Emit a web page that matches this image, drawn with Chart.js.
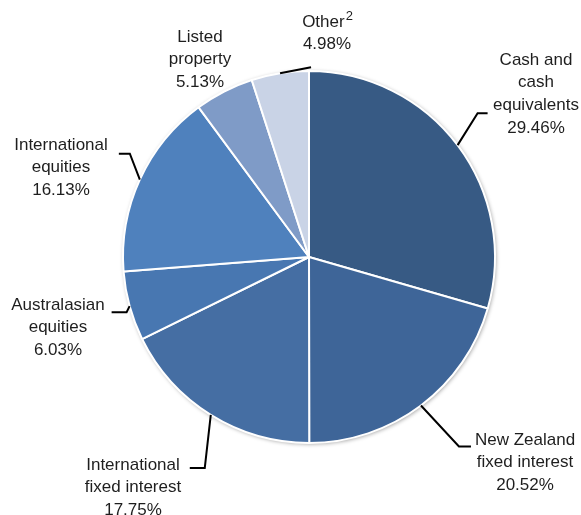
<!DOCTYPE html>
<html>
<head>
<meta charset="utf-8">
<script src="https://cdn.jsdelivr.net/npm/chart.js@4/dist/chart.umd.min.js"></script>
<style>
  html, body { margin: 0; padding: 0; background: #fff; }
  #wrap { width: 581px; height: 515px; position: relative; }
</style>
</head>
<body>
<div id="wrap"><canvas id="pie" width="581" height="515"></canvas></div>
<script>
// Asset allocation, clockwise from 12 o'clock
const categories = [
  'Cash and cash equivalents',
  'New Zealand fixed interest',
  'International fixed interest',
  'Australasian equities',
  'International equities',
  'Listed property',
  'Other'
]
const shares = [29.46, 20.52, 17.75, 6.03, 16.13, 5.13, 4.98]
const sliceColors = ['#375a84', '#3e6598', '#456ea3', '#4877b1', '#4f81bd', '#7f9bc7', '#c9d3e6']

// label text lines (the value line is added after them)
const labelLines = [
  ['Cash and', 'cash', 'equivalents'],
  ['New Zealand', 'fixed interest'],
  ['International', 'fixed interest'],
  ['Australasian', 'equities'],
  ['International', 'equities'],
  ['Listed', 'property'],
  ['Other']
]

// where each label sits, and how its leader bends (relative to the slice edge)
const labelLayout = [
  { x: 536, y: 60,  lead: [[20, -32], [10, 0]] },
  { x: 525, y: 440, lead: [[38, 41], [12, 0]] },
  { x: 133, y: 465, lead: [[-6, 53], [-15, 0]] },
  { x: 58,  y: 305, lead: [[-3, 6], [-15, 0]] },
  { x: 61,  y: 145, lead: [[-10, -26], [-11, 0]] },
  { x: 200, y: 37,  lead: null },
  { x: 327, y: 22,  lead: [[31, -6]], sup: '2' }
]

const FONT = '"Liberation Sans", Arial, sans-serif'
const FONT_SIZE = 17
const LINE_H = 22.7

const pieLabels = {
  id: 'pieLabels',
  beforeDatasetsDraw(chart) {
    // soft halo round the pie
    const arc = chart.getDatasetMeta(0).data[0]
    const ctx = chart.ctx
    ctx.save()
    ctx.shadowColor = 'rgba(0,0,0,0.4)'
    ctx.shadowBlur = 4
    ctx.shadowOffsetX = 1
    ctx.shadowOffsetY = 1
    ctx.fillStyle = '#fff'
    ctx.beginPath()
    ctx.arc(arc.x, arc.y, arc.outerRadius, 0, Math.PI * 2)
    ctx.fill()
    ctx.restore()
  },
  afterDatasetsDraw(chart) {
    const ctx = chart.ctx
    const arcs = chart.getDatasetMeta(0).data
    ctx.save()
    ctx.fillStyle = '#1e1e1e'
    ctx.strokeStyle = '#000'
    ctx.lineWidth = 2
    ctx.textAlign = 'center'
    ctx.textBaseline = 'middle'
    ctx.font = FONT_SIZE + 'px ' + FONT

    arcs.forEach((arc, i) => {
      const lay = labelLayout[i]
      const mid = (arc.startAngle + arc.endAngle) / 2
      const r = arc.outerRadius
      if (lay.lead) {
        let px = arc.x + Math.cos(mid) * r
        let py = arc.y + Math.sin(mid) * r
        ctx.beginPath()
        ctx.moveTo(px, py)
        lay.lead.forEach(([dx, dy]) => {
          px += dx
          py += dy
          ctx.lineTo(px, py)
        })
        ctx.stroke()
      }

      const lines = labelLines[i].concat([shares[i].toFixed(2) + '%'])
      lines.forEach((txt, k) => {
        const y = lay.y + k * LINE_H
        if (k === 0 && lay.sup) {
          const w = ctx.measureText(txt).width
          ctx.font = (FONT_SIZE - 4) + 'px ' + FONT
          const ws = ctx.measureText(lay.sup).width
          ctx.textAlign = 'left'
          ctx.fillText(lay.sup, lay.x - (w + ws) / 2 + w + 1, y - 6)
          ctx.font = FONT_SIZE + 'px ' + FONT
          ctx.fillText(txt, lay.x - (w + ws) / 2, y)
          ctx.textAlign = 'center'
        } else {
          ctx.fillText(txt, lay.x, y)
        }
      })
    })
    ctx.restore()
  }
}

const ctx = document.getElementById('pie').getContext('2d')
new Chart(ctx, {
  type: 'pie',
  data: {
    labels: categories,
    datasets: [{
      data: shares,
      backgroundColor: sliceColors,
      borderColor: '#ffffff',
      borderWidth: 2
    }]
  },
  options: {
    responsive: false,
    animation: false,
    layout: { padding: { left: 122, right: 85, top: 70, bottom: 71 } },
    plugins: {
      legend: { display: false },
      tooltip: { enabled: false }
    }
  },
  plugins: [pieLabels]
})
</script>
</body>
</html>
